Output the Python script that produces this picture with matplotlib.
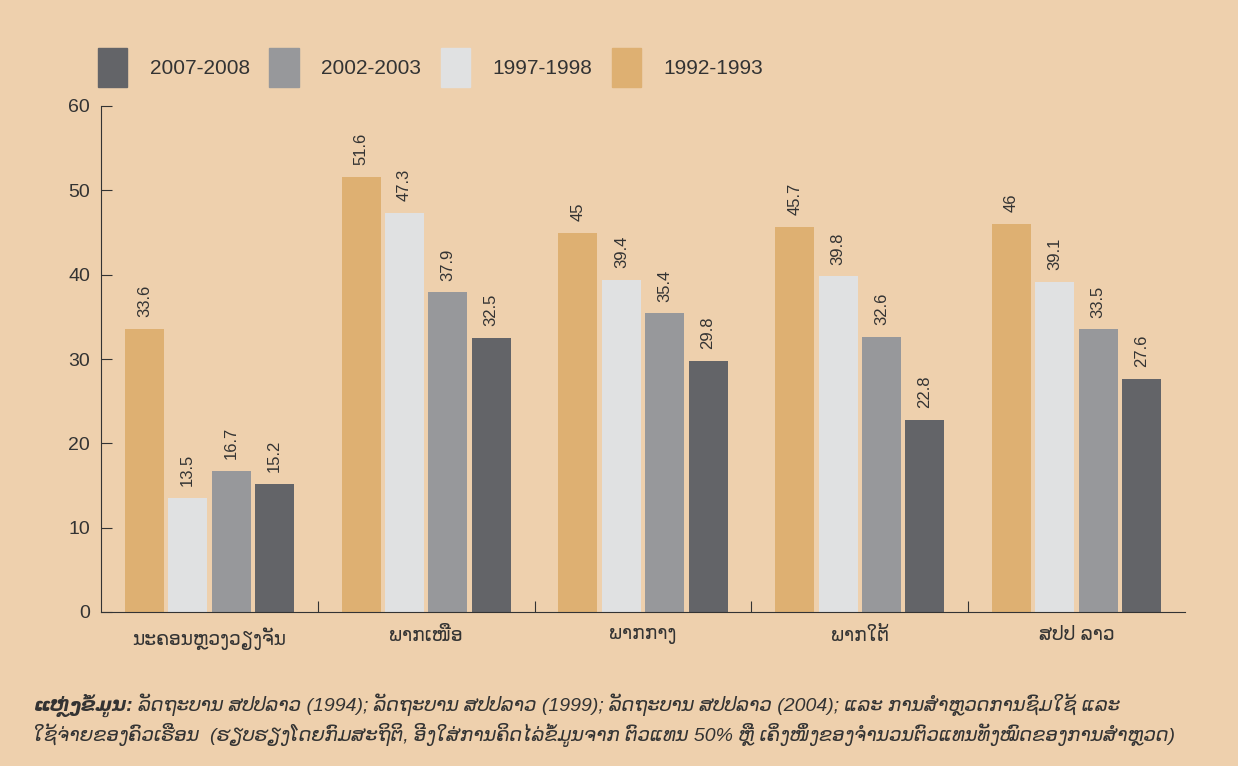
import numpy as np
import matplotlib.pyplot as plt
from matplotlib.patches import Patch

plt.rcParams['font.family'] = ['Liberation Sans', 'DejaVu Sans']

regions = ["ນະຄອນຫຼວງວຽງຈັນ", "ພາກເໜືອ", "ພາກກາງ", "ພາກໃຕ້", "ສປປ ລາວ"]
years = ["1992-1993", "1997-1998", "2002-2003", "2007-2008"]
v1992 = [33.6, 51.6, 45, 45.7, 46]
v1997 = [13.5, 47.3, 39.4, 39.8, 39.1]
v2002 = [16.7, 37.9, 35.4, 32.6, 33.5]
v2007 = [15.2, 32.5, 29.8, 22.8, 27.6]
series = [v1992, v1997, v2002, v2007]
colors = ["#deb072", "#e0e1e2", "#97989b", "#636468"]

bg = "#eed0ad"
fig = plt.figure(figsize=(12.38, 7.66), dpi=100, facecolor=bg)
ax = fig.add_axes([101 / 1238, 1 - 612 / 766, 1084 / 1238, 506 / 766])
ax.set_facecolor(bg)

x = np.arange(len(regions))
offsets = [-0.3, -0.1, 0.1, 0.3]
for vals, off, c in zip(series, offsets, colors):
    bars = ax.bar(x + off, vals, width=0.18, color=c)
    for b, v in zip(bars, vals):
        ax.annotate(f"{v:g}", (b.get_x() + b.get_width() / 2, v),
                    xytext=(0, 8.5), textcoords="offset points",
                    rotation=90, ha="center", va="bottom",
                    fontsize=12, color="#333333")

ax.set_xlim(-0.5, 4.5)
ax.set_ylim(0, 60)
ax.set_yticks(range(0, 61, 10))
ax.tick_params(axis="y", direction="in", length=8, labelsize=14,
               colors="#333333", pad=8)
ax.set_xticks(np.arange(0.5, 4.5, 1))
ax.set_xticklabels([])
ax.tick_params(axis="x", direction="in", length=8, colors="#333333")
for i, r in enumerate(regions):
    ax.text(i, -1.8, r, ha="center", va="top", fontsize=13.5, color="#333333")
for s in ["top", "right"]:
    ax.spines[s].set_visible(False)
for s in ["left", "bottom"]:
    ax.spines[s].set_color("#333333")

handles = [Patch(color=c) for c in colors[::-1]]
fig.legend(handles, years[::-1], ncol=4, loc="upper left",
           bbox_to_anchor=(98 / 1238, 1 - 48 / 766), frameon=False,
           borderpad=0, borderaxespad=0,
           fontsize=15, handlelength=1.4, handleheight=2.5,
           handletextpad=1.1, columnspacing=0.92, labelcolor="#333333")

src = "ແຫຼ່ງຂໍ້ມູນ:"
line1 = (" ລັດຖະບານ ສປປລາວ (1994); ລັດຖະບານ ສປປລາວ (1999); ລັດຖະບານ ສປປລາວ (2004);"
         " ແລະ ການສຳຫຼວດການຊົມໃຊ້ ແລະ")
line2 = ("ໃຊ້ຈ່າຍຂອງຄົວເຮືອນ  (ຮຽບຮຽງໂດຍກົມສະຖິຕິ, ອີງໃສ່ການຄິດໄລ່ຂໍ້ມູນຈາກ ຕົວແທນ 50% "
         "ຫຼື ເຄິ່ງໜຶ່ງຂອງຈຳນວນຕົວແທນທັງໝົດຂອງການສຳຫຼວດ)")
t = fig.text(33 / 1238, 1 - 705 / 766, src, fontsize=14, style="italic",
             fontweight="bold", color="#333333", va="center")
fig.canvas.draw()
bb = t.get_window_extent()
fig.text(bb.x1 / 1238, 1 - 705 / 766, line1, fontsize=14, style="italic",
         color="#333333", va="center")
fig.text(33 / 1238, 1 - 735 / 766, line2, fontsize=14, style="italic",
         color="#333333", va="center")

fig.savefig("out.png", dpi=100, facecolor=bg)
